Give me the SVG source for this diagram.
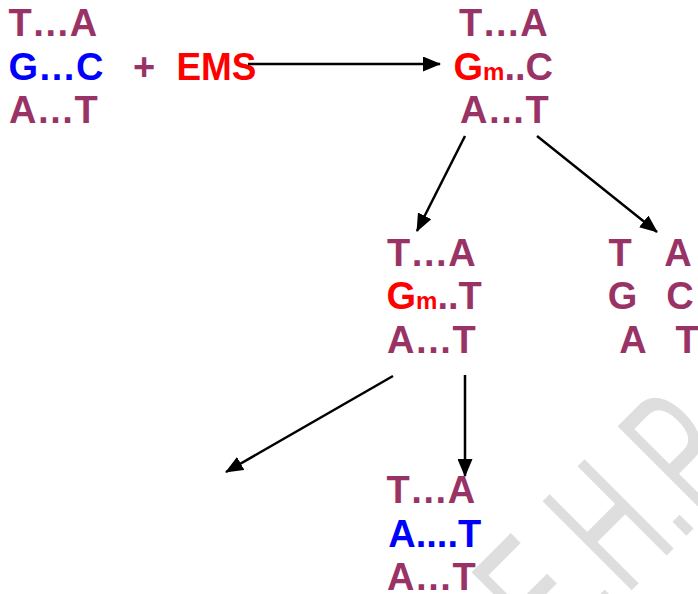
<svg xmlns="http://www.w3.org/2000/svg" width="698" height="594" viewBox="0 0 698 594">
<style>
text{font-family:"Liberation Sans",Arial,sans-serif;font-weight:bold;font-size:38px}
.p{fill:#993366}.b{fill:#0000ff}.r{fill:#ff0000}
.sm{font-size:24px}
.wm{font-weight:normal;font-size:183px;fill:#dedede}
.c{stroke:#000;stroke-width:2.5;fill:none;marker-end:url(#ah)}
</style>
<defs>
<marker id="ah" viewBox="0 0 18 15" refX="17" refY="7.5" markerWidth="18" markerHeight="15" markerUnits="userSpaceOnUse" orient="auto">
<path d="M0,0 L18,7.5 L0,15 Z" fill="#000"/>
</marker>
</defs>
<rect width="698" height="594" fill="#fff"/>
<g id="watermark" transform="translate(554.5,667.5) rotate(-45) scale(0.58,1)">
<text class="wm" x="0" y="0">E.H.P</text>
</g>
<g id="dna-start">
<text class="p" x="8.5" y="36">T…A</text>
<text class="b" x="8.5" y="80">G…C</text>
<text class="p" x="9" y="123">A…T</text>
</g>
<g id="plus"><text class="p" x="133" y="80">+</text></g>
<g id="ems"><text class="r" x="176.5" y="80" textLength="80" lengthAdjust="spacingAndGlyphs">EMS</text></g>
<g id="dna-methylated">
<text class="p" x="459" y="36">T…A</text>
<text x="453.5" y="80"><tspan class="r">G</tspan><tspan class="r sm">m</tspan><tspan class="p">..C</tspan></text>
<text class="p" x="460" y="123">A…T</text>
</g>
<g id="dna-mispaired">
<text class="p" x="387" y="266">T…A</text>
<text x="386.5" y="309"><tspan class="r">G</tspan><tspan class="r sm">m</tspan><tspan class="p">..T</tspan></text>
<text class="p" x="387" y="353">A…T</text>
</g>
<g id="dna-repaired">
<text class="p" x="608.5" y="266">T</text><text class="p" x="664.3" y="266">A</text>
<text class="p" x="607.7" y="309">G</text><text class="p" x="666.2" y="309">C</text>
<text class="p" x="619.3" y="353">A</text><text class="p" x="675.5" y="353">T</text>
</g>
<g id="dna-mutant">
<text class="p" x="386.5" y="503">T…A</text>
<text class="b" x="388.3" y="547">A....T</text>
<text class="p" x="387" y="590">A…T</text>
</g>
<g id="connectors">
<line class="c" x1="248" y1="64" x2="440" y2="64"/>
<line class="c" x1="465" y1="136" x2="417" y2="231"/>
<line class="c" x1="537" y1="136" x2="657" y2="232"/>
<line class="c" x1="393" y1="376" x2="226" y2="472"/>
<line class="c" x1="465" y1="375" x2="465" y2="476"/>
</g>
</svg>
